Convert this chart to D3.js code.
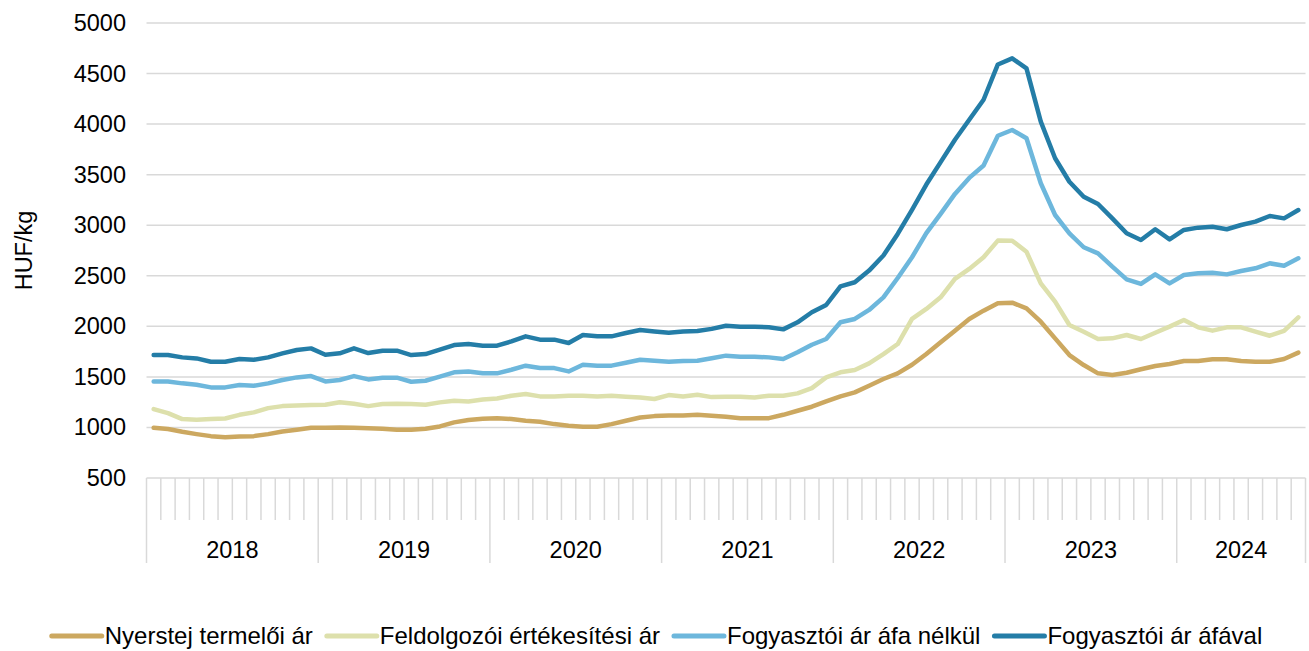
<!DOCTYPE html>
<html>
<head>
<meta charset="utf-8">
<script src="https://cdn.jsdelivr.net/npm/d3@7"></script>
<style>
  html, body { margin: 0; padding: 0; background: #ffffff; }
  svg { display: block; font-family: "Liberation Sans", Arial, sans-serif; }
</style>
</head>
<body>
<svg id="chart" width="1309" height="651"></svg>
<script>
// ---- data ----
const years = ["2018", "2019", "2020", "2021", "2022", "2023", "2024"];
const monthsPerYear = [12, 12, 12, 12, 12, 12, 9];
const yTicks = [500, 1000, 1500, 2000, 2500, 3000, 3500, 4000, 4500, 5000];
const yLabel = "HUF/kg";
const seriesNames = ["Nyerstej termelői ár", "Feldolgozói értékesítési ár", "Fogyasztói ár áfa nélkül", "Fogyasztói ár áfával"];

const nyerstej = [
  997, 984, 957, 934, 914, 904, 911, 914, 934, 960, 977, 997,
  997, 1000, 997, 993, 987, 977, 977, 987, 1010, 1050, 1073, 1086,
  1092, 1083, 1066, 1056, 1033, 1017, 1007, 1007, 1033, 1066, 1099, 1112,
  1119, 1119, 1125, 1116, 1106, 1092, 1092, 1092, 1125, 1165, 1205, 1257,
  1307, 1347, 1413, 1479, 1535, 1620, 1726, 1842, 1957, 2073, 2155, 2228,
  2234, 2178, 2046, 1881, 1716, 1617, 1535, 1519, 1541, 1575, 1608, 1627,
  1657, 1657, 1674, 1674, 1657, 1650, 1650, 1677, 1740
];
const feldolgozoi = [
  1182, 1142, 1083, 1076, 1083, 1089, 1125, 1149, 1191, 1211, 1218, 1221,
  1224, 1250, 1235, 1211, 1232, 1234, 1231, 1224, 1248, 1264, 1257, 1277,
  1287, 1314, 1330, 1307, 1307, 1314, 1314, 1307, 1314, 1304, 1297, 1281,
  1320, 1307, 1323, 1300, 1304, 1304, 1297, 1313, 1313, 1337, 1389, 1495,
  1545, 1568, 1634, 1726, 1825, 2073, 2172, 2287, 2469, 2568, 2683, 2848,
  2847, 2738, 2425, 2244, 2013, 1947, 1875, 1881, 1914, 1875, 1937, 1997,
  2063, 1990, 1957, 1990, 1990, 1947, 1907, 1954, 2089
];
const fogyAfaNelkul = [
  1455, 1455, 1436, 1422, 1396, 1396, 1419, 1413, 1436, 1469, 1495, 1508,
  1455, 1469, 1508, 1475, 1492, 1492, 1452, 1462, 1502, 1545, 1554, 1535,
  1535, 1571, 1611, 1587, 1587, 1554, 1620, 1611, 1611, 1640, 1670, 1660,
  1650, 1657, 1660, 1685, 1710, 1700, 1700, 1693, 1677, 1743, 1818, 1875,
  2040, 2073, 2162, 2287, 2478, 2683, 2921, 3112, 3310, 3468, 3591, 3885,
  3942, 3860, 3415, 3101, 2920, 2782, 2722, 2590, 2465, 2419, 2514, 2425,
  2508, 2525, 2531, 2514, 2547, 2574, 2623, 2600, 2673
];
const fogyAfaval = [
  1716, 1716, 1693, 1683, 1650, 1650, 1677, 1670, 1693, 1733, 1766, 1782,
  1719, 1733, 1782, 1736, 1759, 1759, 1716, 1726, 1769, 1815, 1825, 1809,
  1809, 1851, 1901, 1868, 1868, 1835, 1914, 1901, 1901, 1934, 1964, 1950,
  1937, 1950, 1954, 1975, 2006, 1997, 1997, 1990, 1970, 2040, 2139, 2211,
  2396, 2436, 2551, 2700, 2914, 3152, 3402, 3624, 3845, 4043, 4241, 4590,
  4650, 4552, 4024, 3662, 3430, 3282, 3210, 3068, 2920, 2854, 2960, 2860,
  2953, 2976, 2985, 2960, 3002, 3035, 3091, 3068, 3150
];

const seriesColors = ["#CCA860", "#DDE0AC", "#6DB7DC", "#247DA7"];
const seriesData = [nyerstej, feldolgozoi, fogyAfaNelkul, fogyAfaval];

// ---- build month index ----
const months = [];
years.forEach((yr, yi) => { for (let m = 0; m < monthsPerYear[yi]; m++) months.push(yr + "-" + (m + 1)); });

const svg = d3.select("#chart");
const pLeft = 146.5, pRight = 1305.5, pTop = 23, pBottom = 478;
const FONT = 23.5;
const LFONT = 24;

const x = d3.scaleBand().domain(months).range([pLeft, pRight]).paddingInner(0).paddingOuter(0);
const y = d3.scaleLinear().domain([500, 5000]).range([pBottom, pTop]);

// gridlines
svg.append("g").selectAll("line").data(yTicks).join("line")
  .attr("x1", pLeft).attr("x2", pRight)
  .attr("y1", d => y(d)).attr("y2", d => y(d))
  .attr("stroke", "#d9d9d9").attr("stroke-width", 1.5);

// y labels
const yAxis = d3.axisLeft(y).tickValues(yTicks).tickSize(0).tickPadding(0).tickFormat(d3.format("d"));
const gy = svg.append("g").attr("transform", "translate(126,0)").call(yAxis);
gy.select(".domain").remove();
gy.selectAll("text").attr("font-size", FONT).attr("fill", "#000").attr("font-family", "Liberation Sans, Arial, sans-serif");

svg.append("text")
  .attr("transform", `translate(32,${(pTop + pBottom) / 2}) rotate(-90)`)
  .attr("text-anchor", "middle")
  .attr("font-size", FONT).attr("fill", "#000")
  .text(yLabel);

// category axis: month ticks
const monthEdges = months.map(m => x(m)).concat([pRight]);
const yearStartIdx = [];
{ let c = 0; monthsPerYear.forEach(n => { yearStartIdx.push(c); c += n; }); yearStartIdx.push(c); }
const longIdx = new Set(yearStartIdx);
svg.append("g").selectAll("line").data(monthEdges).join("line")
  .attr("x1", d => d).attr("x2", d => d)
  .attr("y1", pBottom)
  .attr("y2", (d, i) => longIdx.has(i) ? 563 : 520)
  .attr("stroke", "#d9d9d9").attr("stroke-width", 1.5);

// year labels
svg.append("g").selectAll("text").data(years).join("text")
  .attr("x", (d, i) => (x(months[yearStartIdx[i]]) + (i + 1 < years.length ? x(months[yearStartIdx[i + 1]]) : pRight)) / 2)
  .attr("y", 557.5)
  .attr("text-anchor", "middle")
  .attr("font-size", FONT).attr("fill", "#000")
  .text(d => d);

// lines
const line = d3.line()
  .x((d, i) => x(months[i]) + x.bandwidth() / 2)
  .y(d => y(d));
svg.append("g").selectAll("path").data(seriesData).join("path")
  .attr("d", d => line(d))
  .attr("fill", "none")
  .attr("stroke", (d, i) => seriesColors[i])
  .attr("stroke-width", 4.5)
  .attr("stroke-linejoin", "round")
  .attr("stroke-linecap", "round");

// legend
const lg = svg.append("g");
const swatch = 52, gapText = 3, gapItem = 12, ly = 636;
let cx = 0;
seriesNames.forEach((name, i) => {
  const g = lg.append("g");
  g.append("line").attr("x1", 2).attr("x2", swatch).attr("y1", 0).attr("y2", 0)
    .attr("stroke", seriesColors[i]).attr("stroke-width", 5).attr("stroke-linecap", "round");
  const t = g.append("text").attr("x", swatch + gapText).attr("y", 0).attr("dy", "0.35em")
    .attr("font-size", LFONT).attr("fill", "#000").text(name);
  const w = swatch + gapText + t.node().getComputedTextLength();
  g.attr("transform", `translate(${cx},0)`);
  cx += w + gapItem;
});
const totalW = cx - gapItem;
lg.attr("transform", `translate(${(22 + 1290) / 2 - totalW / 2},${ly})`);
</script>
</body>
</html>
